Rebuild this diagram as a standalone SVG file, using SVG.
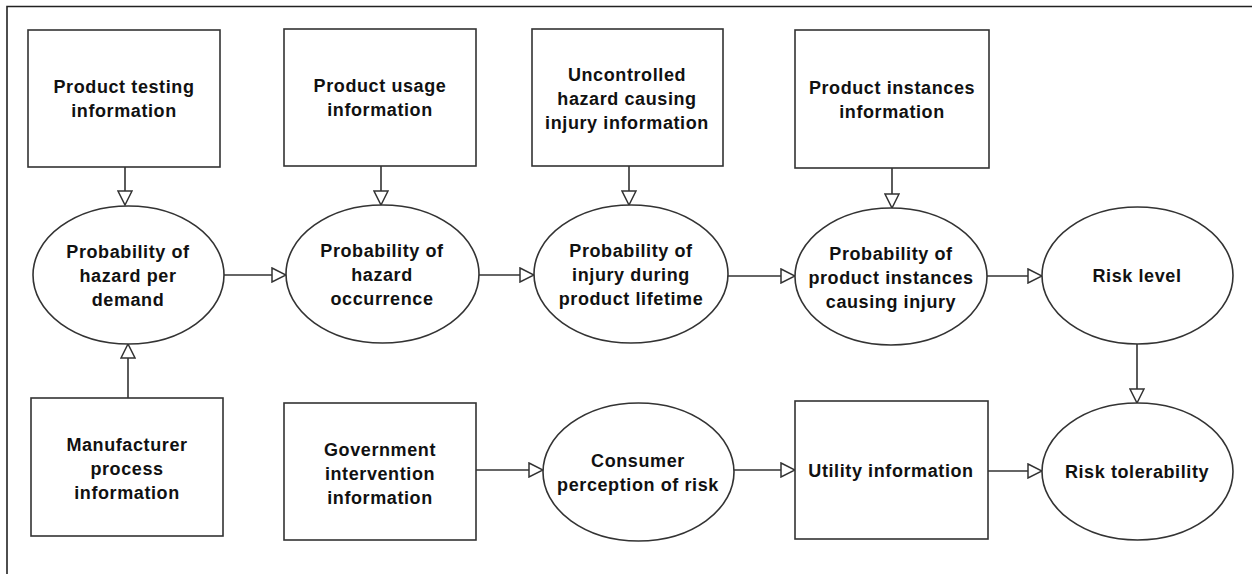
<svg xmlns="http://www.w3.org/2000/svg" width="1257" height="574" viewBox="0 0 1257 574">
<style>
.n{fill:#fff;stroke:#333;stroke-width:1.6}
.t{font-family:"Liberation Sans",Arial,sans-serif;font-weight:bold;font-size:18px;letter-spacing:0.6px;fill:#111;text-anchor:middle}
.c{fill:none;stroke:#333;stroke-width:1.6;marker-end:url(#a)}
.b{fill:none;stroke:#222;stroke-width:1.6}
</style>
<defs>
<marker id="a" markerUnits="userSpaceOnUse" markerWidth="16" markerHeight="16" refX="14" refY="7" orient="auto" viewBox="-1 -1 16 16">
<path d="M0,0 L14,7 L0,14 Z" fill="#fff" stroke="#333" stroke-width="1.5"/>
</marker>
</defs>
<rect width="1257" height="574" fill="#fff"/>
<path class="b" d="M7,574 L7,6.5 L1252,6.5"/>
<g id="connectors">
<path class="c" d="M125,167 L125,205"/>
<path class="c" d="M381,166 L381,205"/>
<path class="c" d="M629,166 L629,205"/>
<path class="c" d="M892,168 L892,208"/>
<path class="c" d="M128,398 L128,344"/>
<path class="c" d="M224,275 L286,275"/>
<path class="c" d="M479,275 L534,275"/>
<path class="c" d="M728,276 L795,276"/>
<path class="c" d="M987,276 L1042,276"/>
<path class="c" d="M1137,344 L1137,403"/>
<path class="c" d="M476,470 L543,470"/>
<path class="c" d="M734,470 L795,470"/>
<path class="c" d="M988,471 L1042,471"/>
</g>
<g id="product-testing"><rect class="n" x="28" y="30" width="192" height="137"/>
<text class="t" x="124" y="93">Product testing</text><text class="t" x="124" y="117">information</text></g>
<g id="product-usage"><rect class="n" x="284" y="29" width="192" height="137"/>
<text class="t" x="380" y="92">Product usage</text><text class="t" x="380" y="116">information</text></g>
<g id="uncontrolled-hazard"><rect class="n" x="532" y="29" width="191" height="137"/>
<text class="t" x="627" y="81">Uncontrolled</text><text class="t" x="627" y="105">hazard causing</text><text class="t" x="627" y="129">injury information</text></g>
<g id="product-instances"><rect class="n" x="795" y="30" width="194" height="138"/>
<text class="t" x="892" y="94">Product instances</text><text class="t" x="892" y="118">information</text></g>
<g id="prob-hazard-demand"><ellipse class="n" cx="128.5" cy="275" rx="95.5" ry="69"/>
<text class="t" x="128" y="258">Probability of</text><text class="t" x="128" y="282">hazard per</text><text class="t" x="128" y="306">demand</text></g>
<g id="prob-hazard-occurrence"><ellipse class="n" cx="382.5" cy="274" rx="96.5" ry="69"/>
<text class="t" x="382" y="257">Probability of</text><text class="t" x="382" y="281">hazard</text><text class="t" x="382" y="305">occurrence</text></g>
<g id="prob-injury-lifetime"><ellipse class="n" cx="631" cy="274" rx="97" ry="69"/>
<text class="t" x="631" y="257">Probability of</text><text class="t" x="631" y="281">injury during</text><text class="t" x="631" y="305">product lifetime</text></g>
<g id="prob-instances-injury"><ellipse class="n" cx="891" cy="276.5" rx="96" ry="68.5"/>
<text class="t" x="891" y="260">Probability of</text><text class="t" x="891" y="284">product instances</text><text class="t" x="891" y="308">causing injury</text></g>
<g id="risk-level"><ellipse class="n" cx="1137.5" cy="275.5" rx="95.5" ry="68.5"/>
<text class="t" x="1137" y="282">Risk level</text></g>
<g id="manufacturer-process"><rect class="n" x="31" y="398" width="192" height="138"/>
<text class="t" x="127" y="451">Manufacturer</text><text class="t" x="127" y="475">process</text><text class="t" x="127" y="499">information</text></g>
<g id="government-intervention"><rect class="n" x="284" y="403" width="192" height="137"/>
<text class="t" x="380" y="456">Government</text><text class="t" x="380" y="480">intervention</text><text class="t" x="380" y="504">information</text></g>
<g id="consumer-perception"><ellipse class="n" cx="638.5" cy="472" rx="95.5" ry="69"/>
<text class="t" x="638" y="467">Consumer</text><text class="t" x="638" y="491">perception of risk</text></g>
<g id="utility-information"><rect class="n" x="795" y="401" width="193" height="138"/>
<text class="t" x="891" y="477">Utility information</text></g>
<g id="risk-tolerability"><ellipse class="n" cx="1137.5" cy="471.5" rx="95.5" ry="68.5"/>
<text class="t" x="1137" y="478">Risk tolerability</text></g>
</svg>
